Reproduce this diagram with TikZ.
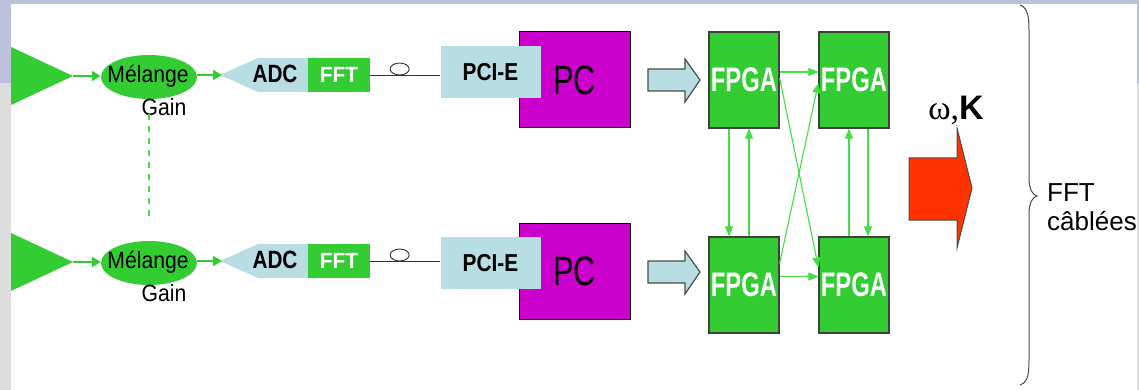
\documentclass[tikz,border=0pt]{standalone}
\usepackage{graphicx}
\usepackage{fontspec}
\setmainfont{Liberation Sans}
\newfontfamily\grfont{Liberation Serif}
\usetikzlibrary{arrows.meta,shapes.geometric}
\definecolor{lav}{HTML}{BCC0DA}
\definecolor{gry}{HTML}{DDDDDD}
\definecolor{grn}{HTML}{33CC33}
\definecolor{lgrn}{HTML}{44DD44}
\definecolor{pblue}{HTML}{B8DEE3}
\definecolor{mag}{HTML}{CC00CC}
\definecolor{redA}{HTML}{FF3300}
\newcommand{\fs}[3]{\scalebox{#2}[1]{\fontsize{#1}{#1}\selectfont #3}}
\begin{document}
\begin{tikzpicture}[x=1pt,y=-1pt,
  gar/.style={grn, line width=2.2pt, -{Triangle[length=9pt,width=10pt]}},
  lnk/.style={lgrn, line width=1.1pt, -{Triangle[length=10pt,width=8pt]}},
  fpga/.style={rectangle, fill=grn, draw=black!75, line width=1.2pt, minimum width=70pt, minimum height=96pt, inner sep=0pt, text=white, font=\bfseries},
  mel/.style={ellipse, fill=grn, minimum width=96pt, minimum height=44pt, inner sep=0pt},
  fftb/.style={rectangle, fill=grn, minimum width=62pt, minimum height=34pt, inner sep=0pt, text=white, font=\bfseries},
  pcib/.style={rectangle, fill=pblue, minimum width=100pt, minimum height=52pt, inner sep=0pt, font=\bfseries},
  pcb/.style={rectangle, fill=mag, draw=black, line width=1pt, minimum width=111pt, minimum height=96pt, inner sep=0pt},
  barrow/.style={fill=pblue, draw=black!70, line width=1.2pt},
  cable/.style={black!80, line width=0.9pt}]
\fill[lav] (0,0) rectangle (1139,83);
\fill[gry] (0,83) rectangle (1139,390);
\fill[white] (11,4) rectangle (1137,390);
\useasboundingbox (0,0) rectangle (1139,390);

\foreach \r/\a/\b/\c/\d in {1/0/0/0/0, 2/186/191/192/205} {
  \fill[grn] (11,{47+\a}) -- (73,{76+\a}) -- (11,{105+\a}) -- cycle;
  \coordinate (tip\r) at (73,{76+\a});
  \node[mel] (m\r) at (149,{77+\a}) {};
  \node (mt\r) at (148,{76+\a}) {\fs{23.5}{0.9}{Mélange}};
  \node (g\r) at (164,{107+\a}) {\fs{23.5}{0.9}{Gain}};
  \draw[gar] (tip\r) -- (m\r.west |- tip\r);
  \fill[pblue] (220,{75+\a}) -- (258,{58+\a}) -- (308,{58+\a}) -- (308,{92+\a}) -- (258,{92+\a}) -- cycle;
  \coordinate (adc\r) at (222,{75+\a});
  \node (adct\r) at (275,{74+\a}) {\fs{25}{0.83}{\bfseries ADC}};
  \node[fftb] (fft\r) at (339,{75+\a}) {\fs{22}{0.95}{FFT}};
  \draw[gar] (m\r.east |- adc\r) -- (adc\r);
  \node[pcb] (pc\r) at (574.5,{80+\b}) {\raisebox{-3pt}{\fs{41}{0.75}{PC}}};
  \node[pcib] (pci\r) at (490.5,{72+\b}) {\fs{24.5}{0.85}{PCI-E}};
  \draw[cable] (fft\r.east) -- (pci\r.west |- fft\r.east) coordinate[pos=0.42] (lp\r);
  \draw[cable, fill=white] ([yshift=6pt]lp\r) ellipse [x radius=9.5, y radius=6];
  \draw[barrow] (648,{69+\c}) -- (685,{69+\c}) -- (685,{59+\c}) -- (700,{80+\c}) -- (685,{102+\c}) -- (685,{91+\c}) -- (648,{91+\c}) -- cycle;
  \node[fpga] (f\r1) at (744,{80+\d}) {\fs{34}{0.7}{FPGA}};
  \node[fpga] (f\r2) at (854,{80+\d}) {\fs{34}{0.7}{FPGA}};
}

\draw[lgrn, line width=1.2pt, dash pattern=on 6pt off 6pt] ([yshift=-15pt]m1.south) -- ([yshift=20pt]m2.north);

\draw[lnk] ([yshift=8pt]f11.east) -- ([yshift=8pt]f12.west);
\draw[lnk] ([yshift=8.5pt]f21.east) -- ([yshift=8.5pt]f22.west);
\draw[lnk] ([xshift=-15pt]f11.south) -- ([xshift=-15pt]f21.north);
\draw[lnk] ([xshift=5pt]f21.north) -- ([xshift=5pt]f11.south);
\draw[lnk] ([xshift=-5pt]f22.north) -- ([xshift=-5pt]f12.south);
\draw[lnk] ([xshift=14pt]f12.south) -- ([xshift=14pt]f22.north);
\draw[lnk] ([yshift=2pt]f11.east) -- ([yshift=17.5pt]f22.west);
\draw[lnk] ([yshift=21.5pt]f21.east) -- ([yshift=-3pt]f12.west);

\draw[fill=redA, draw=black!70, line width=1pt] (909,158) -- (957,158) -- (957,128) -- (972,188) -- (957,248) -- (957,220) -- (909,220) -- cycle;
\node (wk) at (956,110) {\fontsize{34}{34}\selectfont{\grfont ω,}\textbf{K}};

\draw[black!70, line width=1pt] (1020,5) .. controls (1029,8) and (1029,20) .. (1029,35) -- (1029,178) .. controls (1029,190) and (1033,195) .. (1037,196) .. controls (1033,197) and (1029,202) .. (1029,214) -- (1029,355) .. controls (1029,372) and (1029,382) .. (1020,385);

\node[anchor=base west, inner sep=0pt] (l1) at (1047,201) {\fontsize{26}{26}\selectfont FFT};
\node[anchor=base west, inner sep=0pt] (l2) at (1047,230) {\fontsize{26}{26}\selectfont câblées};
\end{tikzpicture}
\end{document}
